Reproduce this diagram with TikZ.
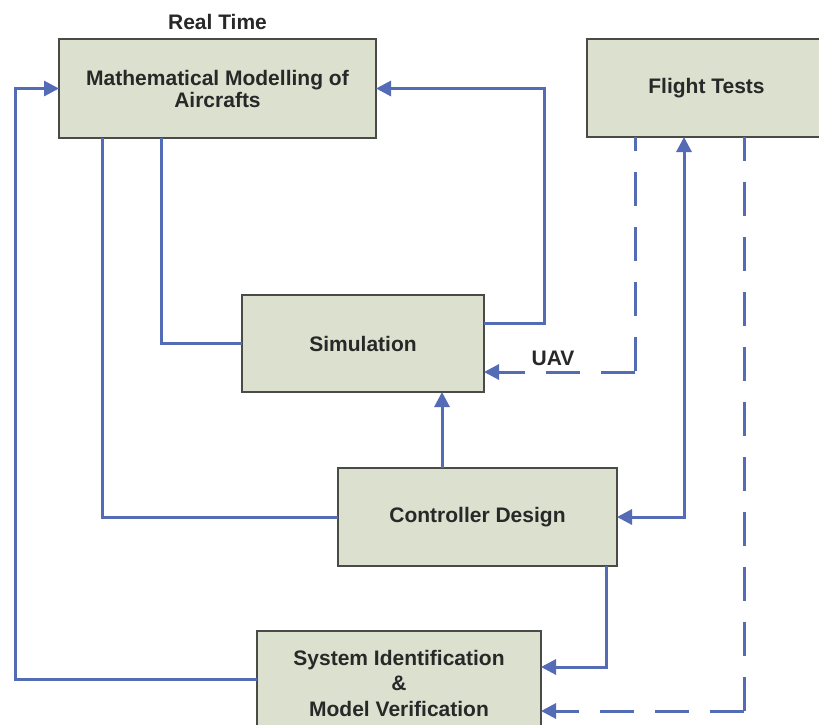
\documentclass[tikz,border=0pt]{standalone}
\usepackage{fontspec}
\setmainfont{Liberation Sans}
\usetikzlibrary{arrows.meta,calc}

\definecolor{boxfill}{RGB}{220,224,207}
\definecolor{boxline}{RGB}{74,74,70}
\definecolor{flow}{RGB}{84,108,182}
\definecolor{ink}{RGB}{40,40,40}

\begin{document}
\begin{tikzpicture}[
  x=1pt, y=-1pt,
  block/.style={draw=boxline, line width=1.8pt, fill=boxfill, text=ink,
    font=\fontsize{21}{22}\selectfont\bfseries, align=center,
    inner sep=0pt, outer sep=0pt},
  conn/.style={draw=flow, line width=3pt},
  dashconn/.style={conn, dash pattern=on 34pt off 21pt},
  tip/.style={-{Triangle[length=15pt,width=15pt]}},
  bothtips/.style={{Triangle[length=15pt,width=15pt]}-{Triangle[length=15pt,width=15pt]}},
  lbl/.style={text=ink, font=\fontsize{21}{22}\selectfont\bfseries, inner sep=0pt}
]
\useasboundingbox (0,0) rectangle (819,724);
\clip (0,0) rectangle (819,724);
\fill[white] (0,0) rectangle (819,724);

% blocks
\node[block, minimum width=317pt, minimum height=99pt] (math) at (217.5,88.5)
  {Mathematical Modelling of\\Aircrafts};
\node[block, minimum width=239pt, minimum height=98pt] (flight) at (706.5,88)
  {Flight Tests};
\node[block, minimum width=242pt, minimum height=97pt] (sim) at (363,343.5)
  {Simulation};
\node[block, minimum width=279pt, minimum height=98pt] (ctrl) at (477.5,517)
  {Controller Design};
\node[block, minimum width=284pt, minimum height=104pt,
  font=\fontsize{21}{25.5}\selectfont\bfseries] (sysid) at (399,683)
  {System Identification\\\&\\Model Verification};

\node[lbl] (rt) at ($(math.north)+(0,-17)$) {Real Time};

% model -> controller and model -> simulation
\draw[conn] ($(math.south west)+(43,0)$) |- (ctrl.west);
\draw[conn] ($(math.south west)+(102,0)$) |- (sim.west);

% simulation -> model (real time loop)
\draw[conn,tip] ($(sim.east)+(0,-20.5)$) -- ++(60,0) |- (math.east);

% controller -> simulation
\coordinate (c4) at ($(ctrl.north west)+(104,0)$);
\draw[conn,tip] (c4) -- (c4 |- sim.south);

% flight tests -> simulation (UAV data), dashed, turning at a corner
\coordinate (f1) at ($(flight.south west)+(48,0)$);
\coordinate (s1) at ($(sim.east)+(0,28.5)$);
\coordinate (k1) at (f1 |- s1);
\draw[dashconn,dash phase=20pt] (f1) -- ($(k1)+(0,1.5)$);
\draw[dashconn,tip] (k1) -- (s1);
\node[lbl, anchor=base] (uav) at ($(sim.east)+(69,22)$) {UAV};

% flight tests <-> controller
\draw[conn,bothtips] ($(flight.south west)+(97,0)$) |- (ctrl.east);

% controller -> identification
\draw[conn,tip] ($(ctrl.south west)+(268,0)$) |- ($(sysid.east)+(0,-16)$);

% flight tests -> identification, dashed, turning at a corner
\coordinate (f2) at ($(flight.south west)+(157,0)$);
\coordinate (s2) at ($(sysid.east)+(0,28)$);
\coordinate (k2) at (f2 |- s2);
\draw[dashconn,dash phase=10pt] (f2) -- ($(k2)+(0,1.5)$);
\draw[dashconn,tip] (k2) -- (s2);

% identification -> model
\draw[conn,tip] ($(sysid.west)+(0,-4)$) -- ++(-242,0) |- (math.west);
\end{tikzpicture}
\end{document}
